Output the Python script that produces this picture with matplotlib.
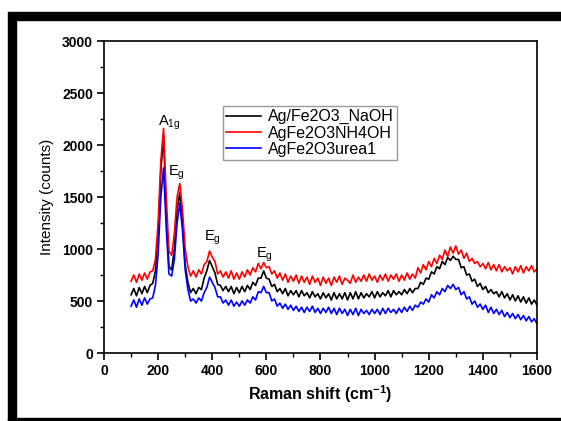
import numpy as np
import matplotlib
matplotlib.use("Agg")
import matplotlib.pyplot as plt
from matplotlib.patches import Rectangle
from matplotlib.ticker import MultipleLocator

plt.rcParams['font.family'] = ['Liberation Sans', 'DejaVu Sans']
plt.rcParams['mathtext.default'] = 'regular'

# raman shift grid, 100..1600 every 10 cm-1
shift = np.arange(100, 1601, 10)

naoh = [560, 620, 550, 630, 570, 640, 580, 650, 670, 790,
        1150, 1750, 2100, 1350, 830, 800, 1000, 1380, 1540, 1250,
        850, 680, 580, 620, 570, 630, 610, 720, 790, 890,
        830, 770, 660, 650, 600, 640, 590, 640, 570, 630,
        580, 640, 590, 650, 610, 680, 650, 720, 720, 790,
        720, 710, 640, 660, 590, 620, 570, 620, 550, 600,
        560, 600, 540, 600, 550, 580, 530, 590, 540, 570,
        520, 580, 530, 570, 510, 580, 520, 570, 520, 580,
        510, 580, 520, 590, 520, 580, 530, 570, 540, 590,
        530, 590, 540, 580, 550, 600, 540, 600, 560, 590,
        560, 610, 570, 620, 580, 620, 620, 680, 660, 720,
        710, 780, 760, 830, 810, 880, 850, 920, 890, 930,
        900, 900, 820, 830, 750, 760, 690, 710, 640, 670,
        610, 640, 580, 610, 570, 590, 540, 590, 530, 570,
        510, 560, 500, 550, 490, 540, 480, 530, 470, 510,
        460]

nh4oh = [690, 750, 680, 760, 700, 770, 710, 780, 790, 900,
         1250, 1850, 2160, 1500, 980, 940, 1150, 1500, 1630, 1380,
         1000, 830, 740, 790, 730, 800, 760, 850, 880, 980,
         920, 880, 760, 790, 730, 780, 720, 790, 710, 770,
         710, 780, 730, 800, 750, 820, 780, 860, 810, 870,
         820, 830, 760, 790, 720, 770, 700, 760, 680, 740,
         690, 750, 670, 740, 680, 730, 660, 740, 680, 720,
         650, 730, 670, 720, 650, 730, 680, 740, 660, 720,
         700, 670, 750, 680, 730, 690, 750, 690, 760, 700,
         740, 680, 750, 700, 760, 690, 750, 710, 760, 690,
         750, 700, 770, 710, 760, 720, 820, 770, 850, 800,
         880, 830, 910, 860, 940, 900, 990, 930, 1020, 960,
         1030, 950, 990, 910, 960, 880, 910, 860, 880, 830,
         860, 810, 870, 800, 850, 790, 850, 780, 830, 790,
         820, 760, 830, 780, 840, 770, 830, 790, 840, 780,
         810]

urea = [450, 510, 440, 520, 460, 530, 470, 520, 530, 650,
        950, 1500, 1780, 1200, 760, 740, 900, 1250, 1440, 1180,
        800, 610, 500, 520, 480, 530, 500, 580, 630, 730,
        680, 630, 540, 540, 480, 510, 460, 510, 450, 490,
        450, 500, 460, 510, 480, 540, 510, 590, 580, 640,
        580, 580, 500, 520, 450, 480, 430, 470, 420, 460,
        410, 450, 400, 440, 390, 440, 400, 450, 390, 430,
        380, 430, 390, 440, 380, 430, 370, 430, 380, 420,
        360, 420, 370, 430, 360, 420, 380, 410, 370, 420,
        380, 420, 370, 430, 380, 430, 390, 420, 380, 430,
        390, 440, 400, 450, 410, 460, 440, 490, 470, 520,
        490, 560, 530, 590, 560, 620, 590, 650, 620, 660,
        610, 630, 560, 590, 520, 540, 470, 500, 440, 470,
        420, 460, 390, 440, 380, 420, 370, 410, 350, 390,
        340, 380, 330, 370, 320, 360, 310, 350, 300, 330,
        280]

labels = ['Ag/Fe2O3_NaOH', 'AgFe2O3NH4OH', 'AgFe2O3urea1']
peak_text = [r'A$_{1g}$', r'E$_g$', r'E$_g$', r'E$_g$']
peak_pos = [(201, 2190), (238, 1710), (368, 1085), (563, 920)]

fig = plt.figure(figsize=(5.61, 4.21), dpi=100)
ax = fig.add_axes([0.1854, 0.1615, 0.7718, 0.7411])

ax.plot(shift, naoh, color='black', lw=1.2, label=labels[0])
ax.plot(shift, nh4oh, color='#ff0000', lw=1.2, label=labels[1])
ax.plot(shift, urea, color='#0000ff', lw=1.2, label=labels[2])

for t, (px, py) in zip(peak_text, peak_pos):
    ax.text(px, py, t, fontsize=10.5, ha='left', va='baseline')

ax.set_xlim(0, 1600)
ax.set_ylim(0, 3000)
ax.xaxis.set_major_locator(MultipleLocator(200))
ax.xaxis.set_minor_locator(MultipleLocator(100))
ax.yaxis.set_major_locator(MultipleLocator(500))
ax.yaxis.set_minor_locator(MultipleLocator(250))
ax.tick_params(which='major', direction='out', length=5, width=1.2, labelsize=10, pad=3)
ax.tick_params(which='minor', direction='out', length=3, width=1.0)
for lab in ax.get_xticklabels() + ax.get_yticklabels():
    lab.set_fontweight('bold')
for s in ax.spines.values():
    s.set_linewidth(1.2)

ax.set_xlabel(r'Raman shift (cm$^{-1}$)', fontsize=11.5, fontweight='bold', labelpad=4)
ax.set_ylabel('Intensity (counts)', fontsize=11, labelpad=6)

leg = ax.legend(loc='upper left', bbox_to_anchor=(0.275, 0.792), borderaxespad=0,
                fontsize=11.5, frameon=True, fancybox=False, handlelength=2.2,
                labelspacing=0.08, borderpad=0.2, handletextpad=0.4)
leg.get_frame().set_edgecolor('#808080')
leg.get_frame().set_linewidth(1.0)

# black frame from the screenshot
W, H = 561, 421
fig.patches.append(Rectangle((8 / W, 1 - 20 / H), 1 - 8 / W, 8 / H, transform=fig.transFigure,
                             color='black', zorder=10))
fig.patches.append(Rectangle((8 / W, 1 / H), 8 / W, 1 - 21 / H, transform=fig.transFigure,
                             color='black', zorder=10))
fig.patches.append(Rectangle((8 / W, 1 / H), 1 - 8 / W, 2 / H, transform=fig.transFigure,
                             color='black', zorder=10))

fig.savefig('out.png', dpi=100)
